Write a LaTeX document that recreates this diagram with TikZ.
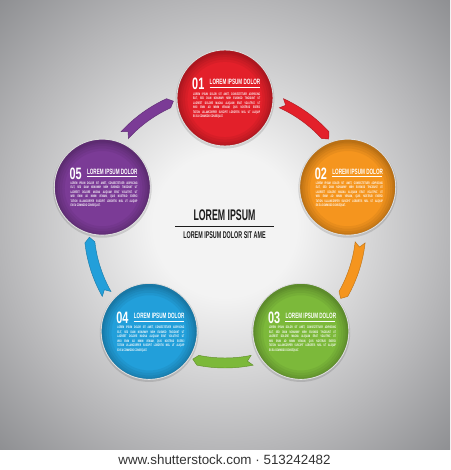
\documentclass[tikz,border=0pt]{standalone}
\usepackage{fontspec}
\setmainfont{Liberation Sans}
\newfontfamily\numfont[FakeStretch=0.66]{Liberation Sans}
\newfontfamily\titlefont[FakeStretch=0.6]{Liberation Sans}
\newfontfamily\bodyfont[FakeStretch=0.55]{Liberation Sans}
\newfontfamily\headfont[FakeStretch=0.57]{Liberation Sans}
\newfontfamily\subfont[FakeStretch=0.55]{Liberation Sans}
\definecolor{cred}{HTML}{E3202A}
\definecolor{corange}{HTML}{F5951E}
\definecolor{cgreen}{HTML}{7CB93A}
\definecolor{cblue}{HTML}{229FDA}
\definecolor{cpurple}{HTML}{7B3B96}
\definecolor{cdark}{HTML}{1C1C1C}
\definecolor{ccredit}{HTML}{333333}
\definecolor{crim}{HTML}{E4E4E4}
\definecolor{bgA}{HTML}{F3F3F3}
\definecolor{bgB}{HTML}{B6B6B8}
\definecolor{bgC}{HTML}{8C8D90}
\pgfdeclareradialshading{bgshade}{\pgfpoint{0bp}{0bp}}{color(0bp)=(bgA); color(8bp)=(bgA); color(25bp)=(bgB); color(36bp)=(bgC); color(50bp)=(bgC)}
\newcommand\lorembody{%
\begin{minipage}{67pt}\bodyfont\bfseries\fontsize{3.5}{4.5}\selectfont
\makebox[67pt][s]{LOREM IPSUM DOLOR SIT AMET, CONSECTETUER ADIPISCING}\\
\makebox[67pt][s]{ELIT, SED DIAM NONUMMY NIBH EUISMOD TINCIDUNT UT}\\
\makebox[67pt][s]{LAOREET DOLORE MAGNA ALIQUAM ERAT VOLUTPAT. UT}\\
\makebox[67pt][s]{WISI ENIM AD MINIM VENIAM, QUIS NOSTRUD EXERCI}\\
\makebox[67pt][s]{TATION ULLAMCORPER SUSCIPIT LOBORTIS NISL UT ALIQUIP}\\
EX EA COMMODO CONSEQUAT.
\end{minipage}}
\tikzset{
  ball/.style={circle, minimum size=96pt, inner sep=0pt, draw=crim, line width=0.9pt},
  numtxt/.style={font=\numfont\bfseries\fontsize{16.5}{16}\selectfont, text=white, inner sep=0pt},
  titletxt/.style={font=\titlefont\bfseries\fontsize{7.7}{8}\selectfont, text=white, inner sep=0pt},
  ribbon/.style={line width=0.45pt},
}
\begin{document}
\begin{tikzpicture}[x=1pt,y=1pt]
\useasboundingbox (0,0) rectangle (450,470);
\shade[shading=bgshade] (0,20) rectangle (450,470);
\fill[white] (0,0) rectangle (450,20);
\coordinate (ctr) at (225,243);
% ribbons
\foreach \m/\col in {54/cred, -18/corange, -90/cgreen, -162/cblue, 126/cpurple}{
  \pgfmathsetmacro\aa{\m+11.5}
  \pgfmathsetmacro\ab{\m-11.5}
  \pgfmathsetmacro\at{\m-13.7}
  \pgfmathsetmacro\an{\m+9.5}
  \draw[ribbon, fill=\col, draw=\col!78!black]
    ([shift={(ctr)}]\aa:141) arc[start angle=\aa, end angle=\ab, radius=141]
    -- ([shift={(ctr)}]\at:136) -- ([shift={(ctr)}]\ab:131)
    arc[start angle=\ab, end angle=\aa, radius=131]
    -- ([shift={(ctr)}]\an:136) -- cycle;
}
% circles
\foreach \i/\ang/\col in {1/90/cred, 2/18/corange, 3/-54/cgreen, 4/-126/cblue, 5/162/cpurple}{
  \fill[black, opacity=0.12] ([shift={(ctr)}, yshift=-1.2pt]\ang:129) circle (49.4);
  \node[ball, fill=\col] (c\i) at ([shift={(ctr)}]\ang:129) {};
  \begin{scope}
    \clip (c\i.center) circle (47.6);
    \foreach \w in {3,6,10,15,20}
      \draw[black, opacity=0.05, line width=\w pt] ([yshift=-1.5pt]c\i.center) circle (47.6);
  \end{scope}
  \node[numtxt, anchor=base west] (n\i) at ([xshift=-33pt,yshift=8pt]c\i.center) {0\i};
  \node[titletxt, anchor=base west] (t\i) at ([xshift=-15.5pt,yshift=13pt]c\i.center) {LOREM IPSUM DOLOR};
  \draw[white, line width=0.6pt] ([xshift=-15.5pt,yshift=10.5pt]c\i.center) -- ([xshift=34.5pt,yshift=10.5pt]c\i.center);
  \node[anchor=north west, inner sep=0pt, text=white] (b\i) at ([xshift=-32pt,yshift=5.5pt]c\i.center) {\lorembody};
}
% centre text
\node[font=\headfont\bfseries\fontsize{15.4}{16}\selectfont, text=cdark, anchor=base, inner sep=0pt] (head) at (224.5,249) {LOREM IPSUM};
\coordinate (hl) at (175,243.3);
\coordinate (hr) at (274,243.3);
\draw[cdark, line width=1.6pt] (hl) -- (hr);
\node[font=\subfont\bfseries\fontsize{9.8}{10}\selectfont, text=cdark, anchor=base, inner sep=0pt] (sub) at (224.5,231) {LOREM IPSUM DOLOR SIT AME};
% credit line
\node[font=\fontsize{13.4}{14}\selectfont, text=ccredit, anchor=base, inner sep=0pt] (credit) at (224.5,5.7) {www.shutterstock.com · 513242482};
\end{tikzpicture}
\end{document}
